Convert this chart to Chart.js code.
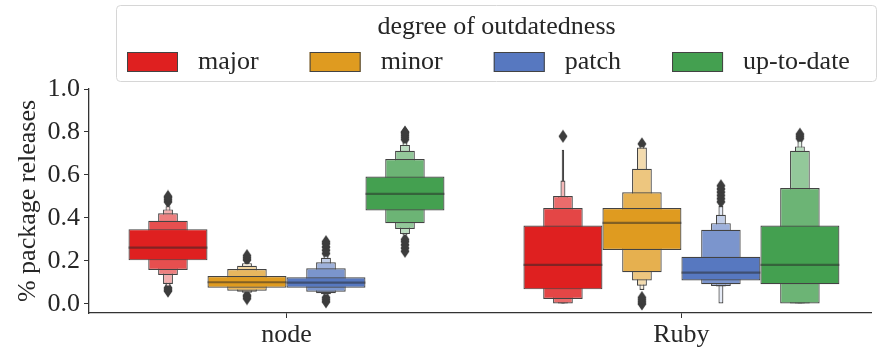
<!DOCTYPE html>
<html>
<head>
<meta charset="utf-8">
<script src="https://cdn.jsdelivr.net/npm/chart.js"></script>
<style>
  html, body { margin: 0; padding: 0; background: #fff; overflow: hidden; }
  canvas { display: block; }
</style>
</head>
<body>
<canvas id="boxen" width="878" height="347"></canvas>
<script>
// categories and hues
const categories = ['node', 'Ruby']
const hues = ['major', 'minor', 'patch', 'up-to-date']
const hueColors = ['#df2020', '#df9b20', '#5778c0', '#44a050']
const yTicks = [0, 0.2, 0.4, 0.6, 0.8, 1.0]

// letter-value boxes per hue, innermost (widest) first: [low, high]
const nodeBoxes = [
  [[0.203, 0.348], [0.158, 0.387], [0.135, 0.422], [0.093, 0.44], [0.08, 0.455]],
  [[0.076, 0.130], [0.062, 0.163], [0.057, 0.178], [0.052, 0.19]],
  [[0.076, 0.124], [0.057, 0.166], [0.050, 0.194], [0.045, 0.215], [0.04, 0.225]],
  [[0.435, 0.593], [0.376, 0.674], [0.349, 0.713], [0.325, 0.740], [0.318, 0.752]]
]
const rubyBoxes = [
  [[0.068, 0.365], [0.023, 0.446], [0.0, 0.502], [0.0, 0.502], [0.0, 0.574], [0.0, 0.717]],
  [[0.251, 0.446], [0.148, 0.520], [0.109, 0.629], [0.085, 0.728], [0.065, 0.735]],
  [[0.109, 0.220], [0.092, 0.345], [0.084, 0.376], [0.081, 0.415], [0.0, 0.456]],
  [[0.092, 0.365], [0.0, 0.539], [0.0, 0.713], [0.0, 0.733], [0.0, 0.76]]
]

// medians
const nodeMedians = [0.262, 0.101, 0.099, 0.512]
const rubyMedians = [0.182, 0.377, 0.146, 0.182]

// outliers
const nodeOutliers = [
  [0.06, 0.067, 0.075, 0.475, 0.485, 0.495, 0.50],
  [0.025, 0.035, 0.04, 0.205, 0.215, 0.225],
  [0.01, 0.02, 0.03, 0.235, 0.25, 0.265, 0.28, 0.29],
  [0.245, 0.26, 0.275, 0.29, 0.30, 0.765, 0.775, 0.785, 0.795, 0.80]
]
const rubyOutliers = [
  [0.78],
  [0.0, 0.01, 0.02, 0.03, 0.745],
  [0.475, 0.49, 0.505, 0.52, 0.535, 0.55],
  [0.77, 0.78, 0.79]
]

const groupBoxes = [nodeBoxes, rubyBoxes]
const groupMedians = [nodeMedians, rubyMedians]
const groupOutliers = [nodeOutliers, rubyOutliers]
const dodge = 0.8 / hues.length
const edge = '#434343'
const textColor = '#262626'
const fontFamily = '"Liberation Serif", "Times New Roman", serif'
const fontSize = 26

// mix a hex colour towards white (seaborn boxen gradient)
function lighten (hex, t) {
  const n = parseInt(hex.slice(1), 16)
  const r = (n >> 16) & 255
  const g = (n >> 8) & 255
  const b = n & 255
  const m = (c) => Math.round(c + (255 - c) * t)
  return `rgb(${m(r)}, ${m(g)}, ${m(b)})`
}

// thin diamond marker for outliers
function diamond () {
  const c = document.createElement('canvas')
  c.width = 10
  c.height = 14
  const g = c.getContext('2d')
  g.fillStyle = '#3d3d3d'
  g.beginPath()
  g.moveTo(5, 0.5)
  g.lineTo(9.5, 7)
  g.lineTo(5, 13.5)
  g.lineTo(0.5, 7)
  g.closePath()
  g.fill()
  return c
}
const marker = diamond()

const datasets = []

// medians (drawn on top)
hues.forEach((hue, h) => {
  datasets.push({
    type: 'bar',
    stack: hue,
    order: 0,
    barPercentage: 1,
    categoryPercentage: 0.8,
    backgroundColor: 'rgba(38, 38, 38, 0.5)',
    borderWidth: 0,
    data: categories.map((c, g) => ({ x: g, y: [groupMedians[g][h] - 0.005, groupMedians[g][h] + 0.005] }))
  })
})

// boxes, one dataset per hue and level
const maxLevels = Math.max(...groupBoxes.flat().map(b => b.length))
for (let i = 0; i < maxLevels; i++) {
  hues.forEach((hue, h) => {
    const data = []
    const colors = []
    groupBoxes.forEach((boxes, g) => {
      const levels = boxes[h]
      if (i < levels.length) {
        data.push({ x: g, y: levels[i] })
        colors.push(lighten(hueColors[h], 0.85 * i / (levels.length - 1)))
      }
    })
    if (data.length === 0) return
    datasets.push({
      type: 'bar',
      stack: hue,
      order: i + 1,
      barPercentage: Math.pow(0.5, i),
      categoryPercentage: 0.8,
      backgroundColor: colors,
      borderColor: edge,
      borderWidth: 1.2,
      borderSkipped: false,
      data: data
    })
  })
}

// outliers (underneath the boxes)
hues.forEach((hue, h) => {
  const pts = []
  groupOutliers.forEach((outs, g) => {
    outs[h].forEach(v => pts.push({ x: g + (h - (hues.length - 1) / 2) * dodge, y: v }))
  })
  datasets.push({
    type: 'scatter',
    order: 50,
    pointStyle: marker,
    pointRadius: 6,
    data: pts
  })
})

// framed legend with title, like matplotlib
const legendBox = {
  id: 'legendBox',
  afterDraw (chart) {
    const ctx = chart.ctx
    const x0 = 116.5
    const y0 = 5.5
    const x1 = 876.5
    const y1 = 81.5
    ctx.save()
    ctx.fillStyle = 'rgba(255,255,255,0.8)'
    ctx.strokeStyle = '#d6d6d6'
    ctx.lineWidth = 1
    ctx.beginPath()
    ctx.roundRect(x0, y0, x1 - x0, y1 - y0, 4)
    ctx.fill()
    ctx.stroke()

    ctx.font = `${fontSize}px ${fontFamily}`
    ctx.fillStyle = textColor
    ctx.textBaseline = 'middle'
    ctx.textAlign = 'center'
    ctx.fillText('degree of outdatedness', (x0 + x1) / 2, 27)

    ctx.textAlign = 'left'
    let x = 127
    const y = 52
    hues.forEach((hue, h) => {
      ctx.fillStyle = hueColors[h]
      ctx.fillRect(x, y, 51, 20)
      ctx.strokeStyle = edge
      ctx.strokeRect(x + 0.5, y + 0.5, 50, 19)
      ctx.fillStyle = textColor
      ctx.fillText(hue, x + 71, y + 10)
      x += 71 + ctx.measureText(hue).width + 51
    })
    ctx.restore()
  }
}

Chart.defaults.font.family = fontFamily
Chart.defaults.font.size = fontSize
Chart.defaults.color = textColor

new Chart(document.getElementById('boxen'), {
  type: 'bar',
  data: { datasets: datasets },
  options: {
    responsive: false,
    animation: false,
    devicePixelRatio: 1,
    events: [],
    layout: { padding: { top: 89, right: 1, left: 0, bottom: 0 } },
    plugins: {
      legend: { display: false },
      tooltip: { enabled: false }
    },
    scales: {
      x: {
        type: 'linear',
        min: -0.5,
        max: 1.48,
        offset: false,
        afterFit: (s) => { s.height = 34 },
        afterBuildTicks: (s) => { s.ticks = categories.map((c, i) => ({ value: i })) },
        ticks: {
          padding: 2,
          callback: (v) => categories[v]
        },
        grid: { drawOnChartArea: false, offset: false, tickLength: 5, color: '#333' },
        border: { color: '#333', width: 1.3 }
      },
      y: {
        stacked: false,
        min: -0.042,
        max: 1.0,
        afterFit: (s) => { s.width = 89 },
        afterBuildTicks: (s) => { s.ticks = yTicks.map(v => ({ value: v })) },
        ticks: {
          padding: 4,
          callback: (v) => v.toFixed(1)
        },
        grid: { drawOnChartArea: false, tickLength: 5, color: '#333' },
        border: { color: '#333', width: 1.3 },
        title: {
          display: true,
          text: '% package releases',
          padding: { top: 13, bottom: 0 }
        }
      }
    }
  },
  plugins: [legendBox]
})
</script>
</body>
</html>
